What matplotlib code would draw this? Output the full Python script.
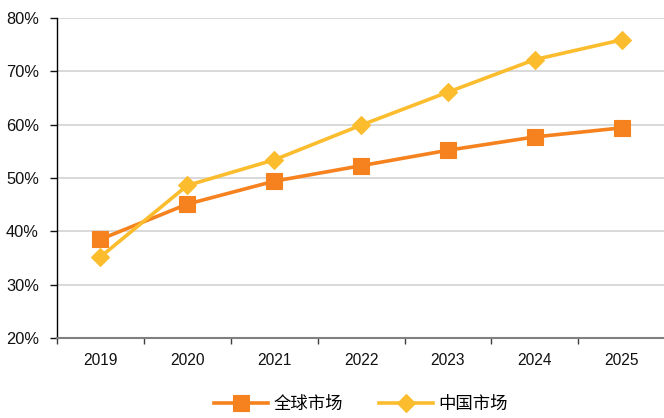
import matplotlib
matplotlib.use("Agg")
import matplotlib.pyplot as plt
from matplotlib.ticker import FixedLocator, PercentFormatter, NullFormatter
import numpy as np

plt.rcParams['font.family'] = ['Liberation Sans', 'Noto Sans CJK SC', 'DejaVu Sans']

years = ["2019", "2020", "2021", "2022", "2023", "2024", "2025"]
global_market = [38.5, 45.1, 49.4, 52.3, 55.2, 57.7, 59.4]
china_market = [35.2, 48.6, 53.4, 59.9, 66.1, 72.2, 75.9]
series_names = ["全球市场", "中国市场"]
y_ticks = [20, 30, 40, 50, 60, 70, 80]

orange = "#F5821F"
yellow = "#FBBC2D"

fig = plt.figure(figsize=(6.64, 4.18), dpi=100)
ax = fig.add_axes([0.0858, 0.1914, 0.916, 0.7656])

x = np.arange(len(years))
ax.plot(x, global_market, color=orange, lw=2.6, marker="s", markersize=11,
        markeredgewidth=0.8, markeredgecolor=orange, label=series_names[0], zorder=3)
ax.plot(x, china_market, color=yellow, lw=2.6, marker="D", markersize=9.5,
        markeredgewidth=0.8, markeredgecolor=yellow, label=series_names[1], zorder=4)

ax.set_xlim(-0.5, len(years) - 0.5)
ax.set_ylim(20, 80)
ax.yaxis.set_major_locator(FixedLocator(y_ticks))
ax.yaxis.set_major_formatter(PercentFormatter(decimals=0))

# category labels centred, tick marks on category boundaries
ax.set_xticks(x)
ax.set_xticklabels(years)
ax.set_xticks(np.arange(-0.5, len(years)), minor=True)
ax.xaxis.set_minor_formatter(NullFormatter())
ax.tick_params(axis="x", which="major", length=0, pad=11, labelsize=11.2, colors="#111111")
ax.tick_params(axis="x", which="minor", length=4, width=1, color="#404040", direction="out")
ax.tick_params(axis="y", length=5, width=1, pad=8, labelsize=11.8, colors="#111111")

ax.grid(axis="y", color="#D9D9D9", lw=1.4)
ax.set_axisbelow(True)
for side in ("top", "right"):
    ax.spines[side].set_visible(False)
ax.spines["left"].set_color("#000000")
ax.spines["left"].set_linewidth(1.0)
ax.spines["bottom"].set_color("#808080")
ax.spines["bottom"].set_linewidth(1.5)

ax.legend(loc="center", bbox_to_anchor=(0.5, -0.207), ncol=2, frameon=False,
          prop={"family": ["Noto Sans CJK SC", "DejaVu Sans"], "size": 12.5},
          handlelength=3.1, handletextpad=0.3, columnspacing=2.1)

fig.savefig("out.png", dpi=100)
